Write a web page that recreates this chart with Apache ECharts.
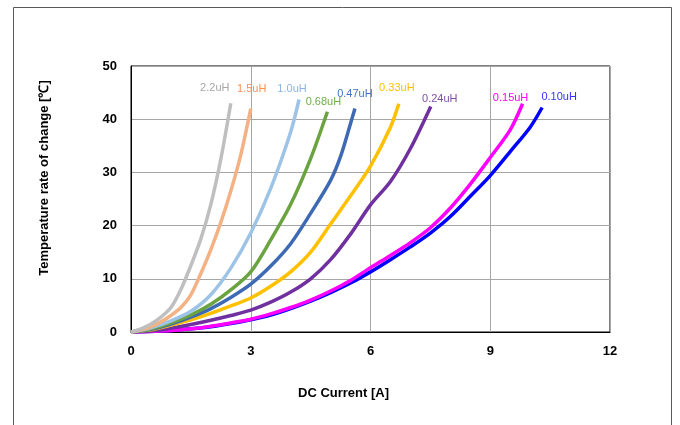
<!DOCTYPE html>
<html>
<head>
<meta charset="utf-8">
<script src="https://cdn.jsdelivr.net/npm/echarts@6/dist/echarts.min.js"></script>
<style>
html,body{margin:0;padding:0;background:#fff;}
#chart{width:680px;height:425px;}
</style>
</head>
<body>
<div id="chart"></div>
<script>
// Series names (inductance)
const seriesNames = ['2.2uH','1.5uH','1.0uH','0.68uH','0.47uH','0.33uH','0.24uH','0.15uH','0.10uH'];
// [DC current A, temperature rise °C]
const s22 = [[0,0],[0.25,0.6],[0.5,1.5],[0.75,2.8],[1.0,4.6],[1.25,8.0],[1.5,12.5],[1.75,17.5],[2.0,24.0],[2.25,32.5],[2.5,43.0]];
const s15 = [[0,0],[0.25,0.4],[0.5,1.0],[0.75,1.9],[1.0,3.1],[1.25,4.6],[1.5,7.0],[1.75,11.0],[2.0,15.5],[2.25,20.6],[2.5,26.5],[2.75,33.3],[3.0,42.0]];
const s10 = [[0,0],[0.5,0.8],[1.0,2.1],[1.5,3.9],[2.0,7.0],[2.5,12.0],[3.0,18.6],[3.5,27.0],[4.0,37.6],[4.21,43.7]];
const s068 = [[0,0],[0.5,0.6],[1.0,1.7],[1.5,3.2],[2.0,5.2],[2.5,7.9],[3.0,11.3],[3.5,17.3],[4.0,24.0],[4.5,32.6],[4.92,41.4]];
const s047 = [[0,0],[0.5,0.5],[1.0,1.5],[1.5,2.8],[2.0,4.4],[2.5,6.5],[3.0,9.0],[3.5,12.4],[4.0,16.6],[4.5,22.3],[5.0,28.5],[5.25,33.0],[5.5,39.2],[5.61,42.0]];
const s033 = [[0,0],[0.5,0.4],[1.0,1.3],[1.5,2.3],[2.0,3.5],[2.5,4.9],[3.0,6.4],[3.5,8.6],[4.0,11.3],[4.5,15.0],[5.0,20.3],[5.5,25.6],[6.0,31.2],[6.5,38.5],[6.71,42.9]];
const s024 = [[0,0],[0.5,0.2],[1.0,0.7],[1.5,1.4],[2.0,2.2],[2.5,3.1],[3.0,4.1],[3.5,5.6],[4.0,7.5],[4.5,10.0],[5.0,13.6],[5.5,18.4],[6.0,23.9],[6.5,28.3],[7.0,34.5],[7.51,42.4]];
const s015 = [[0,0],[1.0,0.3],[1.5,0.6],[2.0,1.1],[2.5,1.7],[3.0,2.4],[3.5,3.4],[4.0,4.6],[4.5,6.0],[5.0,7.7],[5.5,9.7],[6.0,12.1],[6.5,14.4],[7.0,16.8],[7.5,19.6],[8.0,23.3],[8.5,27.8],[9.0,32.8],[9.5,38.0],[9.81,42.9]];
const s010 = [[0,0],[1.0,0.3],[1.5,0.6],[2.0,1.0],[2.5,1.6],[3.0,2.3],[3.5,3.2],[4.0,4.4],[4.5,5.8],[5.0,7.4],[5.5,9.2],[6.0,11.3],[6.5,13.6],[7.0,16.0],[7.5,18.6],[8.0,21.7],[8.5,25.5],[9.0,29.4],[9.5,33.9],[10.0,38.5],[10.3,42.2]];
const seriesData = [s22,s15,s10,s068,s047,s033,s024,s015,s010];

const xTicks = [0,3,6,9,12];
const yTicks = [0,10,20,30,40,50];

const lineColors = ['#BFBFBF','#F4B183','#9DC3E6','#6AA33F','#3E69B3','#FFC000','#7030A0','#FF00FF','#0000FF'];
const labelColors = ['#A6A6A6','#F4915A','#8DB4E2','#70AD47','#4472C4','#FFC000','#8050A8','#FF00FF','#3333FF'];
const labelOffsets = [[-16,-10],[1,-14],[-7,-5],[-4,-4],[0,-9],[-2,-10],[9,-2],[-12,0],[17,-5]];

const chart = echarts.init(document.getElementById('chart'));
const series = seriesNames.map((name, i) => {
  const d = seriesData[i];
  return {
    name: name,
    type: 'line',
    z: 20 - i,
    smooth: 0.3,
    showSymbol: true,
    symbol: 'circle',
    symbolSize: 0,
    lineStyle: {color: lineColors[i], width: 3.5},
    itemStyle: {color: lineColors[i]},
    emphasis: {disabled: true},
    data: d.map((p, j) => j === d.length - 1 ? {
      value: p,
      label: {
        show: true, formatter: name, position: 'top', distance: 0,
        offset: labelOffsets[i], color: labelColors[i],
        fontFamily: 'Liberation Sans, Arial, sans-serif', fontSize: 11
      }
    } : p)
  };
});

chart.setOption({
  animation: false,
  backgroundColor: '#fff',
  grid: {left: 131, right: 70, top: 66, bottom: 93, show: true, borderColor: '#000', borderWidth: 1},
  xAxis: {
    type: 'value', min: xTicks[0], max: xTicks[xTicks.length-1], interval: 3,
    name: 'DC Current [A]', nameLocation: 'middle', nameGap: 55,
    nameTextStyle: {fontFamily: 'Liberation Sans, Arial, sans-serif', fontSize: 13, fontWeight: 'bold', color: '#000', padding: [0,54,0,0]},
    axisLine: {show: true, lineStyle: {color: '#000', width: 1}},
    axisTick: {show: false},
    axisLabel: {fontFamily: 'Liberation Sans, Arial, sans-serif', fontSize: 13, fontWeight: 'bold', color: '#000', margin: 13},
    splitLine: {show: true, lineStyle: {color: '#A6A6A6', width: 1}}
  },
  yAxis: {
    type: 'value', min: yTicks[0], max: yTicks[yTicks.length-1], interval: 10,
    name: 'Temperature rate of change [℃]', nameLocation: 'middle', nameGap: 80,
    nameTextStyle: {fontFamily: 'Liberation Sans, Arial, sans-serif', fontSize: 13, fontWeight: 'bold', color: '#000', padding: [0,0,0,42]},
    axisLine: {show: true, lineStyle: {color: '#000', width: 1}},
    axisTick: {show: false},
    axisLabel: {fontFamily: 'Liberation Sans, Arial, sans-serif', fontSize: 13, fontWeight: 'bold', color: '#000', margin: 14},
    splitLine: {show: true, lineStyle: {color: '#A6A6A6', width: 1}}
  },
  graphic: [{
    type: 'rect', silent: true, z: -1,
    shape: {x: 13.5, y: 7.5, width: 658, height: 430},
    style: {fill: 'none', stroke: '#595959', lineWidth: 1}
  }],
  series: series
});
</script>
</body>
</html>
